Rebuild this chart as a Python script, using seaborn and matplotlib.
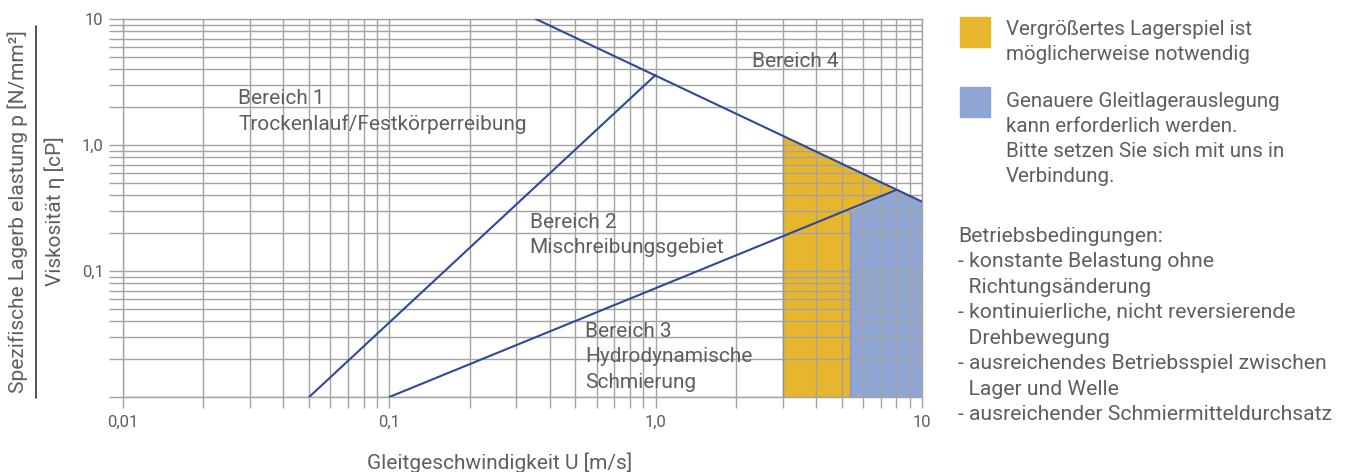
import matplotlib
matplotlib.use("Agg")
import matplotlib.pyplot as plt
import seaborn as sns
from matplotlib.patches import Rectangle
from matplotlib.lines import Line2D
from matplotlib.ticker import LogLocator, NullFormatter

# Daten (log-log)
x_trocken = [0.05, 1.0]          # Grenze Bereich 1 / 2
y_trocken = [0.01, 3.6]
x_oben = [0.355, 10.0]           # Grenze zu Bereich 4
y_oben = [10.0, 0.355]
x_hydro = [0.1, 8.0]             # Grenze Bereich 2 / 3
y_hydro = [0.01, 0.44]
x_senk1 = [3.0, 3.0]
y_senk1 = [0.01, 1.18]
x_senk2 = [5.37, 5.37]
y_senk2 = [0.01, 0.30]

gelb_x = [3.0, 3.0, 8.0, 5.37, 5.37]
gelb_y = [0.01, 1.18, 0.44, 0.30, 0.01]
blau_x = [5.37, 5.37, 8.0, 10.0, 10.0]
blau_y = [0.01, 0.30, 0.44, 0.355, 0.01]

x_ticks = [0.01, 0.1, 1.0, 10.0]
x_labels = ["0,01", "0,1", "1,0", "10"]
y_ticks = [0.01, 0.1, 1.0, 10.0]
y_labels = ["", "0,1", "1,0", "10"]

legende = [
    "Vergrößertes Lagerspiel ist\nmöglicherweise notwendig",
    "Genauere Gleitlagerauslegung\nkann erforderlich werden.\nBitte setzen Sie sich mit uns in\nVerbindung.",
]
bedingungen = ("Betriebsbedingungen:\n"
               "- konstante Belastung ohne\n"
               "  Richtungsänderung\n"
               "- kontinuierliche, nicht reversierende\n"
               "  Drehbewegung\n"
               "- ausreichendes Betriebsspiel zwischen\n"
               "  Lager und Welle\n"
               "- ausreichender Schmiermitteldurchsatz")

BLAU = "#2d4a98"
GELB = "#e8b62c"
HELLBLAU = "#8fa6d5"
GRAU = "#a3a3a3"
TEXT = "#5e5e5e"

sns.set_theme(style="whitegrid")
plt.rcParams["font.family"] = ["Roboto", "DejaVu Sans"]

W, H = 1349, 472
fig = plt.figure(figsize=(W / 100, H / 100), dpi=100)
ax = fig.add_axes([123 / W, 1 - 397 / H, 799 / W, 378 / H])
ax.set_xscale("log")
ax.set_yscale("log")
ax.set_xlim(0.01, 10)
ax.set_ylim(0.01, 10)

# Flächen
ax.fill(gelb_x, gelb_y, color=GELB, lw=0, zorder=0.2)
ax.fill(blau_x, blau_y, color=HELLBLAU, lw=0, zorder=0.2)

# Linien
for xs, ys in [(x_trocken, y_trocken), (x_oben, y_oben), (x_hydro, y_hydro),
               (x_senk1, y_senk1), (x_senk2, y_senk2)]:
    sns.lineplot(x=xs, y=ys, sort=False, color=BLAU, linewidth=1.5, ax=ax, zorder=3)

# Achsen / Gitter
ax.set_axisbelow(True)
ax.set_xticks(x_ticks, x_labels)
ax.set_yticks(y_ticks, y_labels)
ax.xaxis.set_minor_locator(LogLocator(base=10, subs=range(2, 10)))
ax.yaxis.set_minor_locator(LogLocator(base=10, subs=range(2, 10)))
ax.xaxis.set_minor_formatter(NullFormatter())
ax.yaxis.set_minor_formatter(NullFormatter())
ax.grid(True, which="both", color=GRAU, linewidth=1.0)
ax.tick_params(axis="x", which="both", direction="out", length=8, width=1, color=GRAU,
               labelsize=12, labelcolor=TEXT, pad=5, bottom=True)
ax.tick_params(axis="y", which="both", direction="out", length=10, width=1, color=GRAU,
               labelsize=12, labelcolor=TEXT, pad=4, left=True)
for s in ax.spines.values():
    s.set_color(GRAU)
    s.set_linewidth(1.0)
ax.set_xlabel("")
ax.set_ylabel("")

# Bereichsbeschriftungen
kw = dict(transform=ax.transAxes, fontsize=15, color=TEXT, va="top", ha="left",
          linespacing=1.42)
ax.text(0.144, 0.814, "Bereich 1\nTrockenlauf/Festkörperreibung", **kw)
ax.text(0.509, 0.487, "Bereich 2\nMischreibungsgebiet", **kw)
ax.text(0.578, 0.198, "Bereich 3\nHydrodynamische\nSchmierung", **kw)
ax.text(0.787, 0.914, "Bereich 4", **kw)

# Achsentitel
fig.text(367 / W, 1 - 452 / H, "Gleitgeschwindigkeit U [m/s]", fontsize=15,
         color=TEXT, ha="left", va="top")
fig.text(18 / W, 1 - 212 / H, "Spezifische Lagerb elastung p [N/mm²]", fontsize=15,
         color=TEXT, rotation=90, ha="center", va="center")
fig.text(55 / W, 1 - 211 / H, "Viskosität η [cP]", fontsize=15,
         color=TEXT, rotation=90, ha="center", va="center")
fig.add_artist(Line2D([36 / W, 36 / W], [1 - 26 / H, 1 - 398 / H], color="#333333",
                      linewidth=1.2, transform=fig.transFigure))

# Legende rechts
fig.add_artist(Rectangle((960 / W, 1 - 47 / H), 30 / W, 30 / H, color=GELB,
                         transform=fig.transFigure))
fig.add_artist(Rectangle((960 / W, 1 - 117 / H), 30 / W, 30 / H, color=HELLBLAU,
                         transform=fig.transFigure))
tkw = dict(fontsize=14.8, color=TEXT, ha="left", va="top", linespacing=1.4)
fig.text(1006 / W, 1 - 20 / H, legende[0], **tkw)
fig.text(1006 / W, 1 - 92 / H, legende[1], **tkw)
fig.text(958 / W, 1 - 227 / H, bedingungen, fontsize=15.2, color=TEXT, ha="left",
         va="top", linespacing=1.43)

fig.savefig("out.png", dpi=100)
